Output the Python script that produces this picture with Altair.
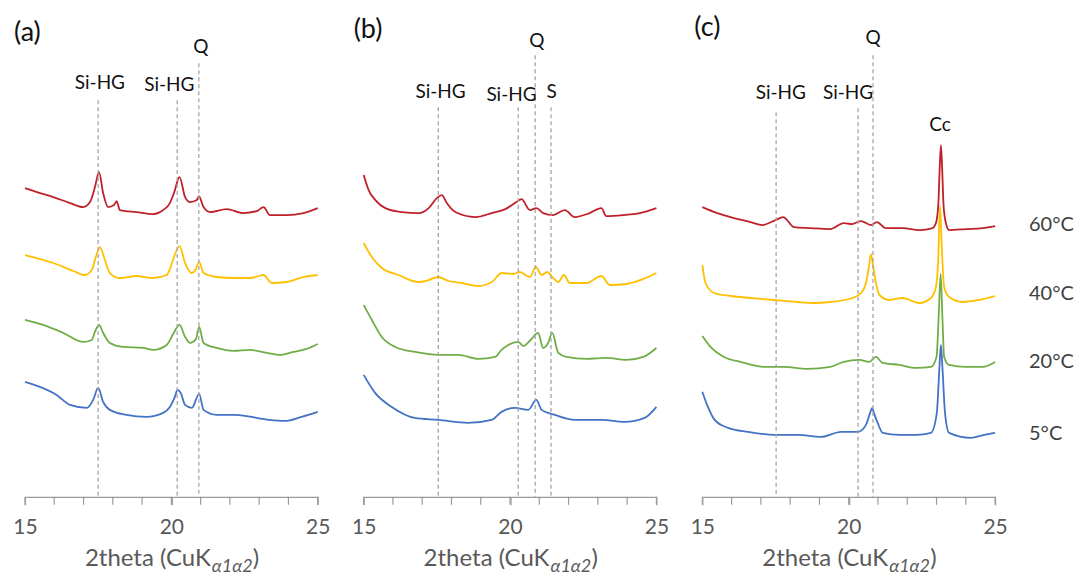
import altair as alt
import pandas as pd

SERIES = ["60°C", "40°C", "20°C", "5°C"]
COLORS = ["#C0202A", "#FFC000", "#70AD47", "#4472C4"]

# ---------------- panel (a) ----------------
a_red_x = [15.00, 15.41, 15.97, 16.54, 16.99, 17.22, 17.39, 17.53, 17.67, 17.84, 18.04, 18.13, 18.24, 18.81, 19.38, 19.72, 19.95, 20.09, 20.28, 20.47, 20.64, 20.87, 20.94, 21.10, 21.32, 21.89, 22.46, 22.92, 23.15, 23.37, 23.94, 24.51, 25.00]
a_red_y = [309, 305, 300, 294, 290, 295, 310, 325, 304, 290, 292, 296, 287, 285, 283, 287, 294, 304, 320, 300, 295, 297, 301, 290, 285, 288, 284, 286, 290, 282, 282, 284, 289]
a_yel_x = [15.00, 15.97, 16.65, 17.05, 17.28, 17.42, 17.56, 17.73, 17.90, 18.24, 18.81, 19.38, 19.84, 19.95, 20.09, 20.28, 20.47, 20.70, 20.84, 20.95, 21.10, 21.55, 22.12, 22.69, 23.15, 23.43, 23.94, 24.51, 25.00]
a_yel_y = [242, 234, 226, 222, 227, 240, 250, 237, 224, 219, 221, 219, 222, 228, 240, 251, 234, 224, 228, 235, 224, 220, 219, 219, 222, 214, 215, 220, 222]
a_grn_x = [15.00, 15.62, 16.31, 16.99, 17.28, 17.39, 17.53, 17.67, 17.90, 18.35, 19.04, 19.38, 19.84, 20.08, 20.28, 20.47, 20.64, 20.84, 20.95, 21.10, 21.55, 22.12, 22.69, 23.26, 23.71, 24.17, 24.62, 25.00]
a_grn_y = [177, 172, 164, 155, 157, 165, 172, 164, 154, 150, 149, 147, 152, 164, 172, 160, 154, 158, 170, 154, 149, 146, 147, 144, 142, 145, 148, 153]
a_blu_x = [15.00, 15.51, 16.08, 16.54, 17.11, 17.33, 17.50, 17.67, 17.90, 18.47, 19.15, 19.72, 19.95, 20.12, 20.21, 20.32, 20.47, 20.70, 20.95, 21.10, 21.55, 22.18, 23.32, 23.88, 24.45, 25.00]
a_blu_y = [115, 110, 102, 92, 89, 97, 109, 95, 87, 82, 80, 84, 90, 100, 107, 104, 92, 89, 103, 87, 82, 82, 77, 76, 80, 85]

# ---------------- panel (b) ----------------
b_red_x = [15.00, 15.17, 15.40, 15.74, 16.31, 16.88, 17.22, 17.50, 17.67, 17.84, 18.13, 18.81, 19.38, 19.84, 20.22, 20.39, 20.68, 20.90, 21.13, 21.47, 21.87, 22.21, 22.72, 23.12, 23.29, 23.86, 24.43, 25.00]
b_red_y = [322, 307, 297, 289, 285, 284, 289, 299, 302, 294, 285, 280, 284, 288, 295, 298, 287, 289, 284, 282, 287, 280, 284, 289, 281, 282, 284, 289]
b_yel_x = [15.00, 15.28, 15.62, 16.19, 16.88, 17.22, 17.54, 17.90, 18.35, 18.92, 19.38, 19.72, 20.12, 20.33, 20.68, 20.88, 21.08, 21.27, 21.47, 21.65, 21.84, 22.04, 22.61, 23.12, 23.41, 23.98, 24.55, 25.00]
b_yel_y = [254, 240, 229, 222, 215, 217, 220, 216, 214, 211, 215, 224, 223, 225, 220, 230, 222, 225, 219, 215, 222, 214, 214, 221, 212, 213, 218, 224]
b_grn_x = [15.00, 15.28, 15.62, 16.08, 16.76, 17.56, 18.24, 18.92, 19.49, 19.71, 19.94, 20.28, 20.45, 20.70, 20.96, 21.13, 21.30, 21.44, 21.65, 21.93, 22.61, 23.29, 23.98, 24.55, 25.00]
b_grn_y = [192, 177, 160, 150, 145, 142, 142, 138, 140, 147, 152, 155, 151, 157, 164, 149, 154, 164, 144, 140, 138, 139, 137, 140, 149]
b_blu_x = [15.00, 15.39, 15.96, 16.75, 17.55, 18.57, 19.37, 19.71, 20.16, 20.62, 20.90, 21.08, 21.53, 22.21, 23.12, 23.92, 24.60, 25.00]
b_blu_y = [122, 104, 90, 79, 77, 74, 77, 85, 89, 87, 97, 87, 82, 77, 77, 75, 79, 90]

# ---------------- panel (c) ----------------
c_red_x = [15.00, 15.51, 16.08, 16.65, 17.05, 17.50, 17.76, 18.13, 18.69, 19.37, 19.83, 20.11, 20.42, 20.76, 20.96, 21.27, 21.84, 22.41, 22.87, 22.98, 23.06, 23.11, 23.15, 23.19, 23.24, 23.32, 23.43, 24.00, 24.57, 25.00]
c_red_y = [290, 284, 279, 275, 272, 277, 280, 270, 269, 268, 274, 273, 276, 272, 275, 269, 269, 267, 269, 274, 292, 330, 352, 330, 292, 274, 267, 268, 269, 271]
c_yel_x = [15.00, 15.11, 15.40, 15.96, 16.65, 17.44, 18.24, 18.81, 19.37, 20.14, 20.42, 20.59, 20.69, 20.76, 20.83, 20.93, 21.05, 21.39, 21.84, 22.41, 22.81, 22.98, 23.06, 23.12, 23.18, 23.26, 23.43, 23.89, 24.45, 25.00]
c_yel_y = [232, 214, 204, 201, 199, 197, 195, 194, 195, 199, 204, 214, 230, 243, 232, 214, 202, 197, 199, 194, 199, 210, 240, 291, 250, 210, 200, 195, 197, 201]
c_grn_x = [15.00, 15.28, 15.74, 16.31, 17.10, 17.79, 18.58, 19.37, 19.83, 20.36, 20.70, 20.93, 21.16, 21.73, 22.30, 22.81, 23.00, 23.08, 23.14, 23.20, 23.26, 23.43, 24.00, 24.57, 25.00]
c_grn_y = [161, 150, 140, 135, 130, 130, 128, 130, 135, 137, 135, 140, 134, 132, 129, 130, 140, 185, 223, 180, 140, 132, 130, 130, 135]
c_blu_x = [15.00, 15.19, 15.42, 15.88, 16.56, 17.47, 18.26, 19.06, 19.74, 20.31, 20.59, 20.73, 20.80, 20.86, 20.99, 21.16, 21.72, 22.31, 22.81, 23.01, 23.10, 23.15, 23.20, 23.29, 23.43, 24.17, 24.63, 25.00]
c_blu_y = [105, 90, 77, 69, 65, 62, 62, 60, 65, 65, 72, 84, 89, 84, 74, 64, 62, 62, 64, 84, 130, 152, 130, 84, 64, 59, 62, 64]

# peak markers: (position, label)
a_marks = [17.50, 20.20, 20.94]
a_names = ["Si-HG", "Si-HG", "Q"]
b_marks = [17.55, 20.28, 20.86, 21.40]
b_names = ["Si-HG", "Si-HG", "Q", "S"]
c_marks = [17.52, 20.32, 20.83]
c_names = ["Si-HG", "Si-HG", "Q"]
cc_name = "Cc"

# axis ticks
tick_values = [15, 16, 17, 18, 19, 20, 21, 22, 23, 24, 25]
tick_labels = [15, 20, 25]

# annotation layout (line tops, label anchor) kept apart from the data
a_layout = dict(top=[397, 397, 434], lx=[17.56, 19.93, 21.01], ly=[414, 412, 450])
b_layout = dict(top=[390, 390, 442, 390], lx=[17.63, 20.05, 20.92, 21.42], ly=[405, 402, 456, 405])
c_layout = dict(top=[385, 389, 442], lx=[17.68, 19.98, 20.83], ly=[404, 404, 459])
cc_layout = dict(lx=[23.12], ly=[372])
temp_y = [272, 203, 135, 63]

FONT = "Lato"
AXIS_GREY = "#9a9a9a"

rows = []
for panel, sets in {
    "a": [(a_red_x, a_red_y), (a_yel_x, a_yel_y), (a_grn_x, a_grn_y), (a_blu_x, a_blu_y)],
    "b": [(b_red_x, b_red_y), (b_yel_x, b_yel_y), (b_grn_x, b_grn_y), (b_blu_x, b_blu_y)],
    "c": [(c_red_x, c_red_y), (c_yel_x, c_yel_y), (c_grn_x, c_grn_y), (c_blu_x, c_blu_y)],
}.items():
    for k, (xs, ys) in enumerate(sets):
        for i, (x, y) in enumerate(zip(xs, ys)):
            rows.append({"panel": panel, "series": SERIES[k], "order": k * 1000 + i,
                         "two_theta": x, "intensity": y})
df = pd.DataFrame(rows)

X_SCALE = alt.Scale(domain=[15, 25], nice=False, zero=False)
Y_SCALE = alt.Scale(domain=[0, 497], nice=False, zero=False)


def make_panel(p, marks, names, layout, tag, tag_x, tag_y, extra=None):
    lines = alt.Chart(df[df.panel == p]).mark_line(strokeWidth=1.8, interpolate="monotone").encode(
        x=alt.X("two_theta:Q", scale=X_SCALE,
                axis=alt.Axis(values=tick_labels, title=None, grid=False,
                              domainColor=AXIS_GREY, tickColor=AXIS_GREY,
                              domainWidth=1.2, tickWidth=1.2, tickSize=8,
                              labelFontSize=21, labelColor="#595959", labelFont=FONT,
                              labelPadding=12, labelFlush=False)),
        y=alt.Y("intensity:Q", scale=Y_SCALE, axis=None),
        color=alt.Color("series:N", scale=alt.Scale(domain=SERIES, range=COLORS), legend=None),
        order="order:Q",
    )
    ticks = alt.Chart(pd.DataFrame({"t": tick_values})).mark_rule(
        color=AXIS_GREY, strokeWidth=1.2).encode(
        x=alt.X("t:Q", scale=X_SCALE), y=alt.value(497), y2=alt.value(505))
    mdf = pd.DataFrame({"x": marks, "top": layout["top"], "bot": [0] * len(marks),
                        "label": names, "lx": layout["lx"], "ly": layout["ly"]})
    rules = alt.Chart(mdf).mark_rule(color="#a6a6a6", strokeDash=[4, 3], strokeWidth=1.3).encode(
        x=alt.X("x:Q", scale=X_SCALE), y=alt.Y("top:Q", scale=Y_SCALE), y2="bot:Q")
    labels = alt.Chart(mdf).mark_text(font=FONT, fontSize=19, color="#111111", baseline="middle").encode(
        x=alt.X("lx:Q", scale=X_SCALE), y=alt.Y("ly:Q", scale=Y_SCALE), text="label:N")
    tag_t = alt.Chart(pd.DataFrame({"t": [tag]})).mark_text(
        font=FONT, fontSize=27, color="#111111", align="left", baseline="middle").encode(
        x=alt.value(tag_x), y=alt.value(tag_y), text="t:N")
    t1 = alt.Chart(pd.DataFrame({"t": ["2theta (CuK"]})).mark_text(
        font=FONT, fontSize=24, color="#595959", align="right", baseline="alphabetic").encode(
        x=alt.value(186), y=alt.value(566), text="t:N")
    t2 = alt.Chart(pd.DataFrame({"t": ["α1α2"]})).mark_text(
        font=FONT, fontSize=18, fontStyle="italic", color="#595959", align="left", baseline="alphabetic").encode(
        x=alt.value(187), y=alt.value(572), text="t:N")
    t3 = alt.Chart(pd.DataFrame({"t": [")"]})).mark_text(
        font=FONT, fontSize=24, color="#595959", align="left", baseline="alphabetic").encode(
        x=alt.value(228), y=alt.value(566), text="t:N")
    layers = [lines, ticks, rules, labels, tag_t, t1, t2, t3]
    if extra is not None:
        layers += extra
    return alt.layer(*layers).properties(width=293, height=497)


cc_df = pd.DataFrame({"label": [cc_name], "lx": cc_layout["lx"], "ly": cc_layout["ly"]})
cc_text = alt.Chart(cc_df).mark_text(font=FONT, fontSize=19, color="#111111", baseline="middle").encode(
    x=alt.X("lx:Q", scale=X_SCALE), y=alt.Y("ly:Q", scale=Y_SCALE), text="label:N")
temps_df = pd.DataFrame({"temp": SERIES, "ty": temp_y})
temps = alt.Chart(temps_df).mark_text(font=FONT, fontSize=20, color="#404040", align="left",
                                      baseline="middle").encode(
    x=alt.value(327), y=alt.Y("ty:Q", scale=Y_SCALE), text="temp:N")

pa = make_panel("a", a_marks, a_names, a_layout, "(a)", -11, 33)
pb = make_panel("b", b_marks, b_names, b_layout, "(b)", -10, 30)
pc = make_panel("c", c_marks, c_names, c_layout, "(c)", -8, 28, extra=[cc_text, temps])

chart = alt.hconcat(pa, pb, pc, spacing=46, bounds="flush").properties(
    padding={"left": 12, "top": 0, "right": 0, "bottom": 0}
).configure_view(stroke=None)

chart.save("out.html", embed_options={"renderer": "svg", "actions": False})
